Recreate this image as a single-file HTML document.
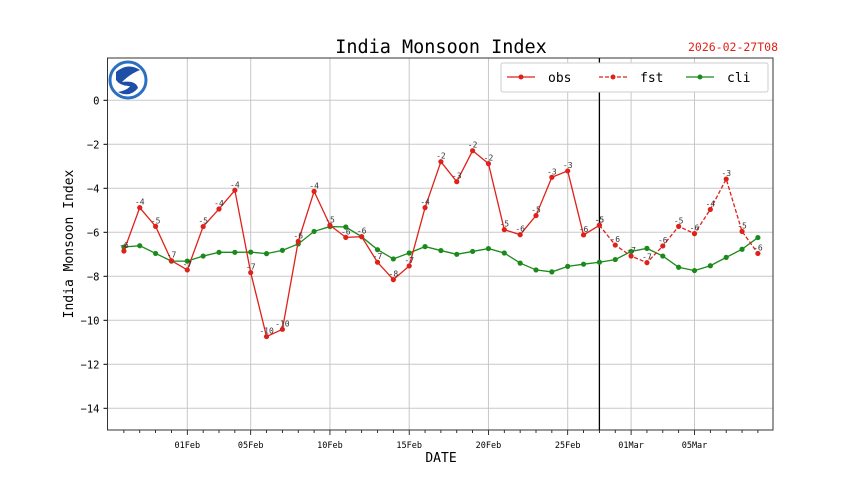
<!DOCTYPE html>
<html><head><meta charset="utf-8"><style>
html,body{margin:0;padding:0;background:#fff;}
svg text{font-family:"DejaVu Sans Mono","Liberation Mono",monospace;}
</style></head><body>
<svg id="chart" width="860" height="483" viewBox="0 0 860 483" xmlns="http://www.w3.org/2000/svg">
<rect width="860" height="483" fill="#fff"/>
<text x="441" y="53" text-anchor="middle" font-size="18.5" fill="#000">India Monsoon Index</text>
<text x="778" y="51" text-anchor="end" font-size="11.5" fill="#e0201a">2026-02-27T08</text>
<g id="grid"></g>
<g id="axes"></g>
<g id="series"></g>
<g>
<circle cx="128" cy="80" r="18" fill="#fff" stroke="#2a6fc0" stroke-width="3"/>
<path d="M116 72 Q128 62 140 70 Q130 74 122 82 Q136 80 138 88 Q130 98 118 92 Q128 90 130 86 Q120 86 116 80 Z" fill="#1d4fa6"/>
</g>
<g>
<rect x="501" y="63" width="267" height="29" fill="#fff" stroke="#ccc" stroke-width="1" rx="2"/>
<g><line x1="507" y1="77" x2="535" y2="77" stroke="#e0201a" stroke-width="1.3"/><circle cx="521" cy="77" r="2.5" fill="#e0201a"/><text x="548" y="82" font-size="13">obs</text></g>
<g><line x1="599" y1="77" x2="627" y2="77" stroke="#e0201a" stroke-width="1.3" stroke-dasharray="4,2"/><circle cx="613" cy="77" r="2.5" fill="#e0201a"/><text x="640" y="82" font-size="13">fst</text></g>
<g><line x1="686" y1="77" x2="714" y2="77" stroke="#1a8a1a" stroke-width="1.3"/><circle cx="700" cy="77" r="2.5" fill="#1a8a1a"/><text x="727" y="82" font-size="13">cli</text></g>
</g>
<text x="441" y="462" text-anchor="middle" font-size="13">DATE</text>
<text transform="translate(73,244) rotate(-90)" text-anchor="middle" font-size="13">India Monsoon Index</text>
</svg>
<script>
// days relative to 01 Feb 2026
const obsDays=[-4,-3,-2,-1,0,1,2,3,4,5,6,7,8,9,10,11,12,13,14,15,16,17,18,19,20,21,22,23,24,25,26];
const obsVals=[-6.85,-4.88,-5.73,-7.29,-7.71,-5.74,-4.94,-4.09,-7.83,-10.74,-10.41,-6.41,-4.14,-5.68,-6.23,-6.2,-7.36,-8.15,-7.53,-4.88,-2.79,-3.7,-2.29,-2.88,-5.88,-6.11,-5.24,-3.5,-3.21,-6.12,-5.68];
const fstDays=[26,27,28,29,30,31,32,33,34,35,36];
const fstVals=[-5.68,-6.58,-7.08,-7.38,-6.62,-5.73,-6.06,-4.96,-3.58,-5.96,-6.96];
const cliDays=[-4,-3,-2,-1,0,1,2,3,4,5,6,7,8,9,10,11,12,13,14,15,16,17,18,19,20,21,22,23,24,25,26,27,28,29,30,31,32,33,34,35,36];
const cliVals=[-6.67,-6.61,-6.96,-7.31,-7.31,-7.08,-6.91,-6.91,-6.9,-6.97,-6.82,-6.53,-5.96,-5.74,-5.76,-6.2,-6.79,-7.21,-6.94,-6.65,-6.83,-7.0,-6.87,-6.74,-6.94,-7.4,-7.71,-7.8,-7.55,-7.45,-7.36,-7.24,-6.87,-6.73,-7.08,-7.59,-7.74,-7.52,-7.14,-6.77,-6.24];
const yTicks=[0,-2,-4,-6,-8,-10,-12,-14];
const xTickDays=[0,4,9,14,19,24,28,32];
const xTickLabels=["01Feb","05Feb","10Feb","15Feb","20Feb","25Feb","01Mar","05Mar"];
const splitDay=26;
const L=107.5,R=773,T=58,B=430,dMin=-5,dMax=37;
const X=d=>187.3+d*15.85;
const Y=v=>100.3-22*v;
const NS="http://www.w3.org/2000/svg";
function mk(tag,at,parent){const e=document.createElementNS(NS,tag);for(const k in at)e.setAttribute(k,at[k]);parent.appendChild(e);return e;}
const grid=document.getElementById('grid'),axes=document.getElementById('axes'),ser=document.getElementById('series');
yTicks.forEach(v=>{
 const l=mk('line',{x1:L,x2:R,y1:Y(v),y2:Y(v),stroke:'#c8c8c8','stroke-width':1},grid);
 
 
 const t=mk('line',{x1:L-4,x2:L,y1:Y(v),y2:Y(v),stroke:'#000'},axes);
 
 
 const tx=mk('text',{x:L-8,y:Y(v)+4,'text-anchor':'end','font-size':10.5},axes);
 tx.textContent=v===0?'0':'\u2212'+Math.abs(v);
 
 
});
xTickDays.forEach((d,i)=>{
 const l=mk('line',{x1:X(d),x2:X(d),y1:T,y2:B,stroke:'#c8c8c8','stroke-width':1},grid);
 
 
 const tx=mk('text',{x:X(d),y:448,'text-anchor':'middle','font-size':8.5},axes);
 tx.textContent=xTickLabels[i];
 
 
});
for(let d=dMin+1;d<dMax;d++){
 const maj=xTickDays.includes(d);
 const t=mk('line',{x1:X(d),x2:X(d),y1:B,y2:B+(maj?5:3),stroke:'#000','stroke-width':0.8},axes);
 
 
}
const fr=mk('rect',{x:L,y:T,width:R-L,height:B-T,fill:'none',stroke:'#333','stroke-width':1},axes);


const vl=mk('line',{x1:X(splitDay),x2:X(splitDay),y1:T,y2:B,stroke:'#000','stroke-width':1.3},axes);


function series(days,vals,color,dash,name,labels){
 const pts=days.map((d,i)=>X(d)+','+Y(vals[i])).join(' ');
 const pl=mk('polyline',{points:pts,fill:'none',stroke:color,'stroke-width':1.3},ser);
 if(dash)pl.setAttribute('stroke-dasharray','4,2');
 
 
 days.forEach((d,i)=>{
  const c=mk('circle',{cx:X(d),cy:Y(vals[i]),r:2.6,fill:color},ser);
  
  
  if(labels){
   const t=mk('text',{x:X(d),y:Y(vals[i])-3,'text-anchor':'middle','font-size':8,fill:'#333'},ser);
   t.textContent=String(Math.trunc(vals[i]));
   
   
  }
 });
}
series(cliDays,cliVals,'#1a8a1a',false,'cli',false);
series(obsDays,obsVals,'#e0201a',false,'obs',true);
series(fstDays,fstVals,'#e0201a',true,'fst',true);
</script>
</body></html>
